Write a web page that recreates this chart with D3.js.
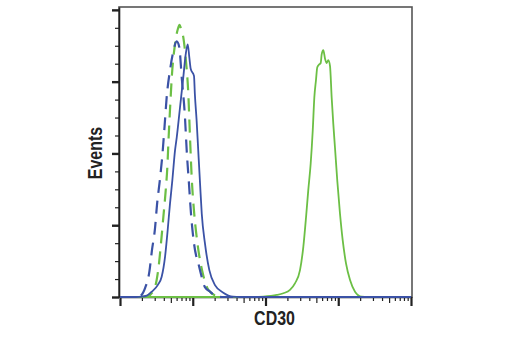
<!DOCTYPE html>
<html>
<head>
<meta charset="utf-8">
<script src="https://cdn.jsdelivr.net/npm/d3@7"></script>
<style>
  body { margin: 0; background: #fff; }
  .lbl { font-family: "Liberation Sans", Arial, sans-serif; font-weight: bold; font-size: 21px; fill: #222; }
</style>
</head>
<body>
<div id="chart"></div>
<script>
// CD30 intensity (log scale) vs event count
const isoBlue = [[1,0],[1.46,0],[1.88,0.7],[2.21,6.2],[2.54,18],[2.75,32.6],[3.03,47.9],[3.22,63.8],[3.55,82.6],[3.84,100],[4.1,119],[4.38,139],[4.87,158],[5.35,170],[6.02,178],[6.53,174],[7.05,153],[7.82,125],[8.26,102],[8.87,79],[9.46,58],[10.4,37.5],[12.3,20.8],[14.7,6.9],[17.3,3.8],[21.3,0.3],[25.2,0],[10000,0]];
const isoGreen = [[1,0],[1.88,0],[2.45,0.8],[2.75,2.8],[3.19,11.8],[3.44,23.6],[3.66,37.5],[3.94,55.5],[4.25,74.3],[4.48,91],[4.64,109],[4.92,135],[5.18,155],[5.7,176],[6.27,187],[6.58,189.5],[6.89,187],[7.41,181],[8.08,164],[8.68,142],[9.17,111],[9.68,83],[10.4,60],[11.6,37.5],[13.7,16.7],[16.4,4.9],[21.3,0.7],[26.9,0],[10000,0]];
const ctrlBlue = [[1,0],[1.66,0],[1.99,0.2],[2.33,0.9],[2.73,3.7],[3.3,8.3],[3.74,14.1],[4.16,28],[4.52,46.5],[4.87,65.2],[5.24,81.2],[5.7,102],[6.02,111],[6.68,132],[7.41,153],[8.0,169],[8.53,176],[8.97,167],[9.37,159],[10.4,154],[10.7,141],[11.3,123],[11.9,102],[12.6,79],[13.3,58],[14.7,37.5],[16.9,18.7],[20.2,8.3],[26.3,3.0],[35.7,0.2],[44.7,0],[10000,0]];
const cd30Green = [[1,0],[61.2,0],[93.3,0.3],[143,1.4],[176,2.6],[217,4.9],[254,9.5],[298,18.7],[331,34.9],[361,55.7],[387,74.3],[418,93],[446,116],[469,139],[494,151],[515,160],[548,162],[574,163],[592,169],[623,172],[658,166],[694,163],[730,165],[770,161],[812,139],[855,120.6],[902,104],[970,81],[1057,58],[1151,39.6],[1278,23.4],[1452,11.8],[1700,3.7],[2100,0.2],[2560,0],[10000,0]];

const xDecades = [1, 10, 100, 1000, 10000];
const yMajor = [0, 50, 100, 150, 200];

const blue = "#3b52a6", green = "#6cbf45";

const margin = { top: 7, right: 108, bottom: 53, left: 119 };
const width = 520 - margin.left - margin.right;
const height = 350 - margin.top - margin.bottom;

const svg = d3.select("#chart").append("svg")
    .attr("width", 520)
    .attr("height", 350)
  .append("g")
    .attr("transform", `translate(${margin.left},${margin.top})`);

const x = d3.scaleLog().domain([1, 10000]).range([1, width - 1]);
const y = d3.scaleLinear().domain([0, 202]).range([height, 0]);

// frame
svg.append("rect")
    .attr("width", width)
    .attr("height", height)
    .attr("fill", "none")
    .attr("stroke", "#555")
    .attr("stroke-width", 1.6);

// x axis: decades plus log minors
const xTicks = [];
xDecades.forEach((d, i) => {
    xTicks.push(d);
    if (i < xDecades.length - 1) for (let k = 2; k <= 9; k++) xTicks.push(d * k);
});
const isDecade = v => xDecades.includes(v);
const isFive = v => !isDecade(v) && Math.abs(Math.log10(v / 5) % 1) < 1e-9;

svg.append("g")
    .attr("transform", `translate(0,${height})`)
    .call(d3.axisBottom(x).tickValues(xTicks).tickFormat("").tickSizeOuter(0))
    .call(g => g.select(".domain").attr("stroke", "#222").attr("stroke-width", 1.6))
    .call(g => g.selectAll(".tick line")
        .attr("stroke", "#222")
        .attr("y2", d => isDecade(d) ? 9 : (isFive(d) ? 6 : 4))
        .attr("stroke-width", d => isDecade(d) ? 2.2 : 1.2));

// y axis: majors every 50, three minors between
const yTicks = d3.range(0, 200.1, 12.5);
svg.append("g")
    .call(d3.axisLeft(y).tickValues(yTicks).tickFormat("").tickSizeOuter(0))
    .call(g => g.select(".domain").attr("stroke", "#222").attr("stroke-width", 1.6))
    .call(g => g.selectAll(".tick line")
        .attr("stroke", "#222")
        .attr("x2", d => yMajor.includes(d) ? -7 : -4)
        .attr("stroke-width", d => yMajor.includes(d) ? 2.4 : 1.2));

const line = d3.line()
    .x(d => x(d[0]))
    .y(d => y(d[1]))
    .curve(d3.curveMonotoneX);

const series = [
    { data: cd30Green, color: green, dash: null },
    { data: isoGreen, color: green, dash: "13,8" },
    { data: isoBlue, color: blue, dash: "13,8" },
    { data: ctrlBlue, color: blue, dash: null }
];

series.forEach(s => {
    svg.append("path")
        .datum(s.data)
        .attr("fill", "none")
        .attr("stroke", s.color)
        .attr("stroke-width", s.dash ? 2.2 : 1.8)
        .attr("stroke-dasharray", s.dash)
        .attr("d", line);
});

// axis titles (condensed look via horizontal squeeze)
svg.append("text")
    .attr("class", "lbl")
    .attr("transform", `translate(${width / 2 + 9},${height + 27.7}) scale(0.76,1)`)
    .attr("text-anchor", "middle")
    .text("CD30");

svg.append("text")
    .attr("class", "lbl")
    .attr("transform", `translate(-17.5,${height / 2 + 1}) rotate(-90) scale(0.76,1)`)
    .attr("text-anchor", "middle")
    .text("Events");
</script>
</body>
</html>
